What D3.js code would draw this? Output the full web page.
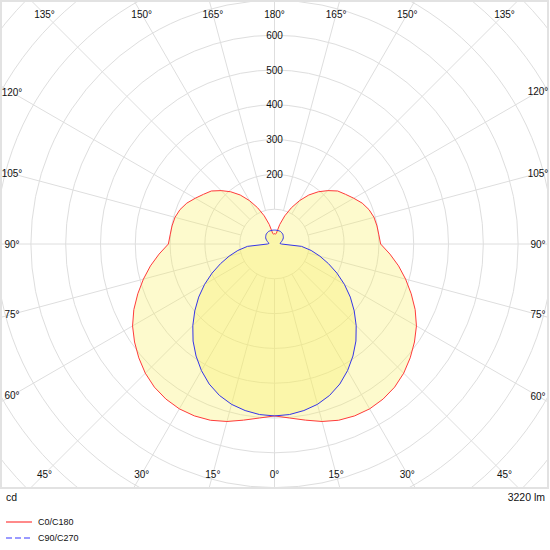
<!DOCTYPE html>
<html>
<head>
<meta charset="utf-8">
<script src="https://cdn.jsdelivr.net/npm/d3@7"></script>
<style>
  html, body { margin: 0; padding: 0; background: #fff; }
  svg { display: block; }
  text { font-family: "Liberation Sans", Arial, sans-serif; fill: #111; }
</style>
</head>
<body>
<svg id="chart" width="550" height="550"></svg>
<script>
// ---- data ----
const gammaAngles = [0,5,10,15,20,25,30,35,40,45,50,55,60,65,70,75,80,85,90,
                     95,100,105,110,115,120,125,130,135,140,145,150,155,160,165,170,175,180];
// C0/C180 plane (cd)
const c0c180 = [494,502,514,528,539,545,547,544,537,525,509,491,471,446,418,390,362,333,305,
                301,299,296,289,278,263,249,237,217,196,172,144,115,86,58,32,28,30];
// C90/C270 plane (cd)
const c90c270 = [494,492,486,477,463,444,420,393,364,332,299,266,232,198,165,135,107,78,20,
                 16,17,19,22,25,28,31,33,35,37,38,39,40,40,40,40,40,40];
const ringValues = [100,200,300,400,500,600,700,800,900,1000];
const ringLabels = [200,300,400,500,600];
const spokeAngles = [0,15,30,45,60,75,90,105,120,135,150,165,180];
const seriesNames = ["C0/C180", "C90/C270"];
const unitLabel = "cd";
const fluxLabel = "3220 lm";

// ---- layout ----
const svg = d3.select("#chart");
const cx = 274.5, cy = 244;
const r = d3.scaleLinear().domain([0, 1000]).range([0, 348]);
const frame = {x0: 1, y0: 1, x1: 548, y1: 488};
const labelBox = {x0: 12, y0: 14, x1: 538, y1: 474};
const rad = d => d * Math.PI / 180;

svg.append("defs").append("clipPath").attr("id", "clip")
  .append("rect").attr("x", frame.x0).attr("y", frame.y0)
  .attr("width", frame.x1 - frame.x0).attr("height", frame.y1 - frame.y0);

const plot = svg.append("g").attr("clip-path", "url(#clip)");
const g = plot.append("g").attr("transform", `translate(${cx},${cy})`);

// grid rings
g.selectAll("circle.ring").data(ringValues).join("circle")
  .attr("class", "ring").attr("r", d => r(d))
  .attr("fill", "none").attr("stroke", "#dedede").attr("stroke-width", 1);

// spokes (both sides)
const spokeData = [];
spokeAngles.forEach(a => {
  spokeData.push(Math.PI - rad(a));
  if (a > 0 && a < 180) spokeData.push(Math.PI + rad(a));
});
g.selectAll("line.spoke").data(spokeData).join("line")
  .attr("class", "spoke")
  .attr("x1", a => r(100) * Math.sin(a)).attr("y1", a => -r(100) * Math.cos(a))
  .attr("x2", a => r(1200) * Math.sin(a)).attr("y2", a => -r(1200) * Math.cos(a))
  .attr("stroke", "#dedede").attr("stroke-width", 1);

// build closed polar outlines
function outline(values) {
  const pts = [];
  gammaAngles.forEach((a, i) => pts.push([Math.PI - rad(a), r(values[i])]));
  for (let i = gammaAngles.length - 2; i >= 1; i--) pts.push([Math.PI + rad(gammaAngles[i]), r(values[i])]);
  return pts;
}
const radial = d3.lineRadial().curve(d3.curveLinearClosed);

const redPts = outline(c0c180);
const bluePts = outline(c90c270);

g.append("path").attr("d", radial(redPts)).attr("fill", "#f8ee5c").attr("fill-opacity", 0.31).attr("stroke", "none");
g.append("path").attr("d", radial(bluePts)).attr("fill", "#f8ee5c").attr("fill-opacity", 0.31).attr("stroke", "none");
g.append("path").attr("d", radial(redPts)).attr("fill", "none").attr("stroke", "#ff3b3b").attr("stroke-width", 1);
g.append("path").attr("d", radial(bluePts)).attr("fill", "none").attr("stroke", "#3535e8").attr("stroke-width", 1);

// frame
svg.append("rect").attr("x", frame.x0).attr("y", frame.y0)
  .attr("width", frame.x1 - frame.x0).attr("height", frame.y1 - frame.y0)
  .attr("fill", "none").attr("stroke", "#e2e2e2").attr("stroke-width", 2);

// value labels
svg.selectAll("text.val").data(ringLabels).join("text")
  .attr("class", "val")
  .attr("x", cx).attr("y", d => cy - r(d))
  .attr("text-anchor", "middle").attr("dominant-baseline", "central")
  .attr("font-size", 10).text(d => d);

// angle labels where spokes meet label box
const angLabels = [];
spokeAngles.forEach(a => {
  angLabels.push({a, side: 1});
  if (a > 0 && a < 180) angLabels.push({a, side: -1});
});
function boxPoint(a, side) {
  const dx = side * Math.sin(rad(a)), dy = Math.cos(rad(a));
  let t = Infinity;
  if (dx > 1e-9) t = Math.min(t, (labelBox.x1 - cx) / dx);
  if (dx < -1e-9) t = Math.min(t, (labelBox.x0 - cx) / dx);
  if (dy > 1e-9) t = Math.min(t, (labelBox.y1 - cy) / dy);
  if (dy < -1e-9) t = Math.min(t, (labelBox.y0 - cy) / dy);
  return [cx + t * dx, cy + t * dy];
}
svg.selectAll("text.ang").data(angLabels).join("text")
  .attr("class", "ang")
  .attr("x", d => boxPoint(d.a, d.side)[0])
  .attr("y", d => boxPoint(d.a, d.side)[1])
  .attr("text-anchor", "middle").attr("dominant-baseline", "central")
  .attr("font-size", 10).text(d => d.a + "°");

// footer
svg.append("text").attr("x", 6).attr("y", 501).attr("font-size", 10.5).text(unitLabel);
svg.append("text").attr("x", 545).attr("y", 501).attr("text-anchor", "end").attr("font-size", 10.5).text(fluxLabel);

// legend
const legend = svg.append("g");
const legendStyles = [
  {color: "#ff8a8a", dash: null},
  {color: "#9a9aff", dash: "6,3"}
];
seriesNames.forEach((name, i) => {
  const y = 522 + i * 16;
  legend.append("line").attr("x1", 6).attr("x2", 32).attr("y1", y).attr("y2", y)
    .attr("stroke", legendStyles[i].color).attr("stroke-width", 2)
    .attr("stroke-dasharray", legendStyles[i].dash);
  legend.append("text").attr("x", 38).attr("y", y).attr("dominant-baseline", "central")
    .attr("font-size", 9).text(name);
});
</script>
</body>
</html>
